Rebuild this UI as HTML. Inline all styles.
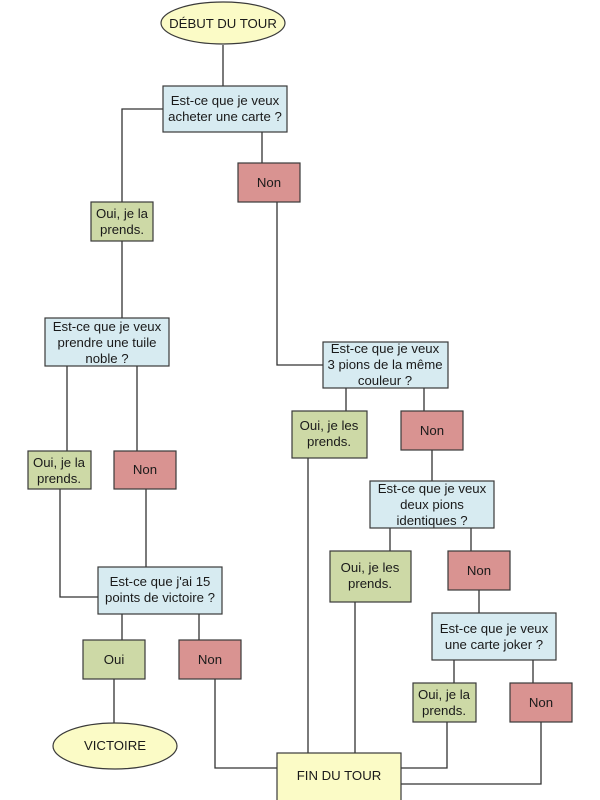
<!DOCTYPE html>
<html><head><meta charset="utf-8"><style>
html,body{margin:0;padding:0;background:#fff;}
svg{display:block;}
text{font-family:"Liberation Sans",Arial,sans-serif;font-size:13.2px;fill:#1a1a1a;text-anchor:middle;}
.b{fill:#d7ebf1;stroke:#3a3a3a;stroke-width:1.2;}
.g{fill:#cdd9a6;stroke:#3a3a3a;stroke-width:1.2;}
.r{fill:#d99391;stroke:#3a3a3a;stroke-width:1.2;}
.y{fill:#fbfbc6;stroke:#3a3a3a;stroke-width:1.2;}
.l{fill:none;stroke:#333;stroke-width:1.3;}
</style></head><body>
<svg width="600" height="800" viewBox="0 0 600 800">
<path class="l" d="M223 45V86 M163 109H122V202 M262 132V163 M277 202V365H323"/>
<path class="l" d="M122 241V318 M67 366V451 M137 366V451 M60 489V597H98 M146 489V567"/>
<path class="l" d="M122 614V640 M199 614V640 M114 679V723 M215 679V768H277"/>
<path class="l" d="M346 388V411 M424 388V411 M308 458V753 M432 450V481"/>
<path class="l" d="M390 528V551 M471 528V551 M355 602V753 M479 590V613"/>
<path class="l" d="M454 660V683 M533 660V683 M447 722V768H401 M541 722V784H401"/>

<ellipse class="y" cx="223" cy="23" rx="62" ry="21"/>
<text x="223" y="28">DÉBUT DU TOUR</text>

<rect class="b" x="163" y="86" width="124" height="46"/>
<text x="225" y="105">Est-ce que je veux</text><text x="225" y="121">acheter une carte ?</text>

<rect class="r" x="238" y="163" width="62" height="39"/>
<text x="269" y="187">Non</text>

<rect class="g" x="91" y="202" width="62" height="39"/>
<text x="122" y="218">Oui, je la</text><text x="122" y="234">prends.</text>

<rect class="b" x="45" y="318" width="124" height="48"/>
<text x="107" y="331">Est-ce que je veux</text><text x="107" y="347">prendre une tuile</text><text x="107" y="363">noble ?</text>

<rect class="g" x="28" y="451" width="63" height="38"/>
<text x="59" y="467">Oui, je la</text><text x="59" y="483">prends.</text>
<rect class="r" x="114" y="451" width="62" height="38"/>
<text x="145" y="474">Non</text>

<rect class="b" x="98" y="567" width="124" height="47"/>
<text x="160" y="586">Est-ce que j'ai 15</text><text x="160" y="602">points de victoire ?</text>

<rect class="g" x="83" y="640" width="62" height="39"/>
<text x="114" y="664">Oui</text>
<rect class="r" x="179" y="640" width="62" height="39"/>
<text x="210" y="664">Non</text>

<ellipse class="y" cx="115" cy="746" rx="62" ry="23"/>
<text x="115" y="750">VICTOIRE</text>

<rect class="b" x="323" y="342" width="125" height="46"/>
<text x="385" y="353">Est-ce que je veux</text><text x="385" y="369">3 pions de la même</text><text x="385" y="385">couleur ?</text>

<rect class="g" x="292" y="411" width="75" height="47"/>
<text x="329" y="430">Oui, je les</text><text x="329" y="446">prends.</text>
<rect class="r" x="401" y="411" width="62" height="39"/>
<text x="432" y="435">Non</text>

<rect class="b" x="370" y="481" width="124" height="47"/>
<text x="432" y="493">Est-ce que je veux</text><text x="432" y="509">deux pions</text><text x="432" y="525">identiques ?</text>

<rect class="g" x="330" y="551" width="81" height="51"/>
<text x="370" y="572">Oui, je les</text><text x="370" y="588">prends.</text>
<rect class="r" x="448" y="551" width="62" height="39"/>
<text x="479" y="575">Non</text>

<rect class="b" x="432" y="613" width="124" height="47"/>
<text x="494" y="633">Est-ce que je veux</text><text x="494" y="649">une carte joker ?</text>

<rect class="g" x="413" y="683" width="63" height="39"/>
<text x="444" y="699">Oui, je la</text><text x="444" y="715">prends.</text>
<rect class="r" x="510" y="683" width="62" height="39"/>
<text x="541" y="707">Non</text>

<rect class="y" x="277" y="753" width="124" height="50"/>
<text x="339" y="780">FIN DU TOUR</text>
</svg>
</body></html>
